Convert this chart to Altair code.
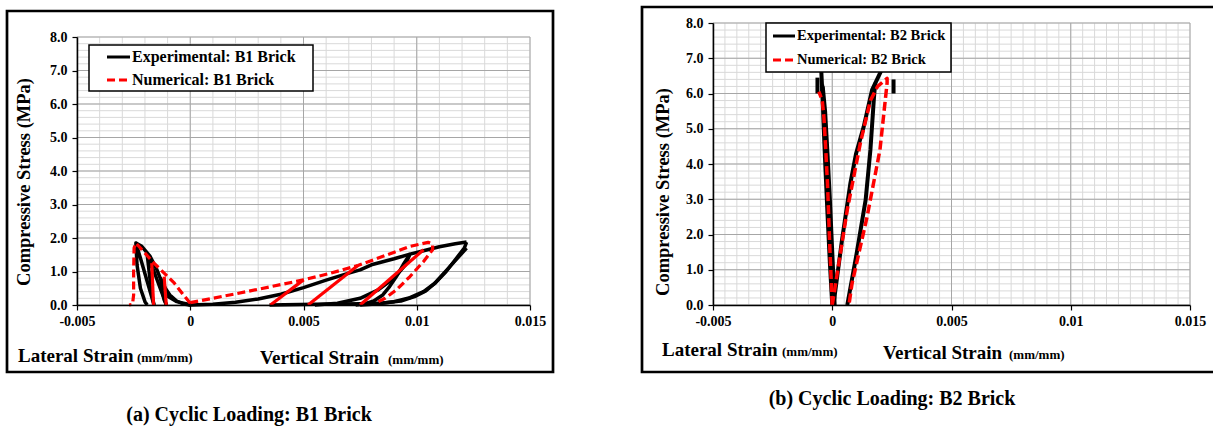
import altair as alt
import pandas as pd

FONT = "Liberation Serif"

# ---------------- tick values ----------------
X_TICKS = [-0.005, 0.0, 0.005, 0.01, 0.015]
X_MINOR_A = [round(-0.005 + 0.001 * i, 4) for i in range(21)]
X_MINOR_B = [round(-0.005 + 0.0005 * i, 4) for i in range(41)]
Y_TICKS = [0, 1, 2, 3, 4, 5, 6, 7, 8]
Y_MINOR = [round(0.2 * i, 1) for i in range(41)]

# ---------------- texts ----------------
LEGEND_A = ["Experimental: B1 Brick", "Numerical: B1 Brick"]
LEGEND_B = ["Experimental: B2 Brick", "Numerical: B2 Brick"]
Y_TITLE = "Compressive Stress (MPa)"
X_TITLE_LAT = "Lateral Strain"
X_TITLE_VER = "Vertical Strain"
UNIT = "(mm/mm)"
CAPTION_A = "(a) Cyclic Loading: B1 Brick"
CAPTION_B = "(b) Cyclic Loading: B2 Brick"

# ---------------- data: B1 brick (strain, MPa) ----------------
B1_EXP = [
    ([0, -0.0003, -0.0006, -0.0009, -0.0011, -0.0013, -0.00125, -0.00115, -0.00105],
     [0, 0.03, 0.12, 0.30, 0.50, 0.78, 0.45, 0.15, 0]),
    ([-0.00105, -0.0013, -0.0016, -0.0019, -0.0018, -0.0017, -0.0016],
     [0, 0.45, 1.0, 1.5, 0.9, 0.35, 0]),
    ([-0.0016, -0.0019, -0.0022, -0.0024, -0.00235, -0.0022, -0.0020, -0.0019],
     [0, 0.7, 1.4, 1.85, 1.2, 0.5, 0.1, 0]),
    ([-0.0024, -0.00214, -0.00177, -0.00147, -0.00118, -0.00096, -0.00059, -0.00015, 0],
     [1.85, 1.75, 1.45, 1.05, 0.55, 0.25, 0.10, 0.03, 0]),
    ([0, 0.001, 0.002, 0.003, 0.004, 0.005, 0.006, 0.007, 0.0075, 0.008, 0.009, 0.0097],
     [0, 0.02, 0.08, 0.18, 0.32, 0.52, 0.74, 0.95, 1.05, 1.20, 1.38, 1.52]),
    ([0.0097, 0.0094, 0.0091, 0.0088, 0.0085, 0.0081, 0.0077, 0.0073],
     [1.52, 1.2, 0.85, 0.55, 0.30, 0.12, 0.03, 0]),
    ([0.0055, 0.0065, 0.0075, 0.0083, 0.0090, 0.0095, 0.0097, 0.0103, 0.0110, 0.0117, 0.0122],
     [0, 0.05, 0.2, 0.45, 0.8, 1.2, 1.52, 1.62, 1.74, 1.83, 1.88]),
    ([0.0122, 0.0121, 0.0117, 0.0113, 0.0108, 0.0103, 0.0097, 0.0090, 0.0082, 0.0075],
     [1.88, 1.70, 1.35, 1.0, 0.65, 0.4, 0.22, 0.10, 0.03, 0]),
    ([0.0035, 0.0055, 0.0075, 0.0085, 0.0093, 0.0099, 0.0104, 0.0108, 0.0112, 0.0116, 0.0120, 0.0122],
     [0, 0.02, 0.04, 0.06, 0.12, 0.25, 0.42, 0.65, 0.95, 1.25, 1.55, 1.7]),
]
B1_NUM_DASH = [
    ([0, -0.0003, -0.0007, -0.0010, -0.0013, -0.0016, -0.0020, -0.0024, -0.00248, -0.0025, -0.0025, -0.00255, -0.0027],
     [0.05, 0.3, 0.65, 0.85, 1.05, 1.25, 1.55, 1.85, 1.7, 1.0, 0.3, 0.02, 0]),
    ([0, 0.0025, 0.0050, 0.0062, 0.0074, 0.0087, 0.0097, 0.0105, 0.0107, 0.0107, 0.0103, 0.0097, 0.0091, 0.0086, 0.0083],
     [0.07, 0.4, 0.75, 0.95, 1.18, 1.5, 1.75, 1.87, 1.82, 1.65, 1.3, 0.85, 0.45, 0.2, 0.1]),
]
B1_NUM_SOLID = [
    ([-0.0017, -0.00162], [1.25, 0]),
    ([-0.00115, -0.00106], [0.85, 0]),
    ([0.00354, 0.0050], [0, 0.75]),
    ([0.0052, 0.0074], [0, 1.18]),
    ([0.0075, 0.0103], [0, 1.65]),
]

# ---------------- data: B2 brick ----------------
B2_EXP = [
    ([0, -0.0001, -0.0002, -0.00028, -0.00035, -0.0004, -0.00045, -0.0005],
     [0, 1.2, 2.6, 3.8, 4.9, 5.8, 6.5, 7.3]),
    ([0.0001, 0, -0.0001, -0.0002, -0.0003, -0.0004],
     [0, 1.5, 3.0, 4.3, 5.5, 6.2]),
    ([-0.00062, -0.00062], [6.0, 6.45]),
    ([-0.00042, -0.00042], [5.95, 6.25]),
    ([0.00257, 0.00257], [6.0, 6.4]),
    ([0.00005, 0.0004, 0.00076, 0.001, 0.00132, 0.0015, 0.00167, 0.002, 0.00215],
     [0, 1.8, 3.45, 4.3, 5.06, 5.6, 6.1, 6.57, 6.8]),
    ([0.00063, 0.001, 0.0014, 0.0016, 0.00174, 0.0018],
     [0, 1.37, 2.98, 4.4, 5.8, 6.3]),
]
B2_NUM = [
    ([0, -0.0001, -0.0002, -0.00028, -0.00035, -0.00042, -0.00056],
     [0, 1.6, 3.45, 4.5, 5.34, 5.8, 6.05]),
    ([0, 0.00063, 0.00118, 0.0016, 0.0019, 0.0023, 0.0023, 0.0020, 0.00146, 0.00083, 0.0007],
     [0, 2.7, 4.6, 5.8, 6.2, 6.43, 6.3, 4.4, 2.5, 0.61, 0]),
]

# ---------------- layout (pixels) ----------------
PANELS = {
    "a": {"xr": [77, 530], "yr": [305, 37], "box": (7, 553, 11, 372), "xminor": X_MINOR_A},
    "b": {"xr": [713, 1190], "yr": [305, 23], "box": (642, 1230, 7, 372), "xminor": X_MINOR_B},
}
ONE = pd.DataFrame({"k": [0]})


def xscale(p):
    return alt.Scale(domain=[-0.005, 0.015], range=PANELS[p]["xr"], nice=False, zero=False)


def yscale(p):
    return alt.Scale(domain=[0, 8], range=PANELS[p]["yr"], nice=False, zero=False)


def seg_frame(segs):
    rows = []
    for k, (xs, ys) in enumerate(segs):
        for i, (xv, yv) in enumerate(zip(xs, ys)):
            rows.append({"x": xv, "y": yv, "seg": k, "i": i})
    return pd.DataFrame(rows)


def line_layer(p, segs, color, width, dash=None):
    kw = dict(color=color, strokeWidth=width, strokeJoin="round")
    if dash:
        kw["strokeDash"] = dash
    return alt.Chart(seg_frame(segs)).mark_line(**kw).encode(
        x=alt.X("x:Q", scale=xscale(p), axis=None),
        y=alt.Y("y:Q", scale=yscale(p), axis=None),
        detail="seg:N",
        order="i:Q",
    )


AXIS_STYLE = dict(
    grid=False, title=None, domainColor="black", domainWidth=1.5,
    tickColor="black", tickWidth=1.2, tickSize=5,
    labelFont=FONT, labelFontWeight="bold", labelFontSize=14, labelColor="black",
    labelOverlap=False, zindex=1,
)


def grid_layers(p):
    x0, x1 = PANELS[p]["xr"]
    yb, yt = PANELS[p]["yr"]
    vmin = alt.Chart(pd.DataFrame({"v": PANELS[p]["xminor"]})).mark_rule(color="#d9d9d9", strokeWidth=1).encode(
        x=alt.X("v:Q", scale=xscale(p), axis=None), y=alt.value(yt), y2=alt.value(yb))
    hmin = alt.Chart(pd.DataFrame({"v": Y_MINOR})).mark_rule(color="#d9d9d9", strokeWidth=1).encode(
        y=alt.Y("v:Q", scale=yscale(p), axis=None), x=alt.value(x0), x2=alt.value(x1))
    vmaj = alt.Chart(pd.DataFrame({"v": X_TICKS})).mark_rule(color="#a6a6a6", strokeWidth=1).encode(
        x=alt.X("v:Q", scale=xscale(p), axis=alt.Axis(
            values=X_TICKS, orient="bottom", labelFlush=False, labelPadding=4,
            labelExpr="datum.value < 0 ? '-' + format(-datum.value, '~g') : format(datum.value, '~g')",
            **AXIS_STYLE)),
        y=alt.value(yt), y2=alt.value(yb))
    hmaj = alt.Chart(pd.DataFrame({"v": Y_TICKS})).mark_rule(color="#a6a6a6", strokeWidth=1).encode(
        y=alt.Y("v:Q", scale=yscale(p), axis=alt.Axis(
            values=Y_TICKS, orient="left", offset=-x0, format=".1f", labelPadding=5,
            **AXIS_STYLE)),
        x=alt.value(x0), x2=alt.value(x1))
    return [vmin, hmin, vmaj, hmaj]


def box(p):
    x0, x1, y0, y1 = PANELS[p]["box"]
    return alt.Chart(ONE).mark_rect(fill="white", fillOpacity=0, stroke="black", strokeWidth=2.7).encode(
        x=alt.value(x0), x2=alt.value(x1), y=alt.value(y0), y2=alt.value(y1))


def text(s, x, y, size, align="left", baseline="alphabetic", angle=0):
    kw = dict(font=FONT, fontWeight="bold", fontSize=size, align=align, baseline=baseline, color="black")
    if angle:
        kw["angle"] = angle
    return alt.Chart(pd.DataFrame({"t": [s]})).mark_text(**kw).encode(
        x=alt.value(x), y=alt.value(y), text="t:N")


def legend(bx, rows_y, lx0, lx1, tx, size, labels, dash):
    x0, x1, y0, y1 = bx
    rect = alt.Chart(ONE).mark_rect(fill="white", stroke="black", strokeWidth=1.5).encode(
        x=alt.value(x0), x2=alt.value(x1), y=alt.value(y0), y2=alt.value(y1))
    l1 = alt.Chart(ONE).mark_rule(color="black", strokeWidth=3).encode(
        x=alt.value(lx0), x2=alt.value(lx1), y=alt.value(rows_y[0]))
    l2 = alt.Chart(ONE).mark_rule(color="#ff0000", strokeWidth=3, strokeDash=dash).encode(
        x=alt.value(lx0), x2=alt.value(lx1), y=alt.value(rows_y[1]))
    t1 = text(labels[0], tx, rows_y[0], size, baseline="middle")
    t2 = text(labels[1], tx, rows_y[1], size, baseline="middle")
    return [rect, l1, l2, t1, t2]


RED = "#ff0000"
layers = []
layers += grid_layers("a") + grid_layers("b")
layers += [box("a"), box("b")]
# panel a curves
layers.append(line_layer("a", B1_EXP, "black", 3.5))
layers.append(line_layer("a", B1_NUM_SOLID, RED, 3.2))
layers.append(line_layer("a", B1_NUM_DASH, RED, 3.2, dash=[8, 4]))
# panel b curves
layers.append(line_layer("b", B2_EXP, "black", 4))
layers.append(line_layer("b", B2_NUM, RED, 3.5, dash=[9, 4]))
# legends
layers += legend((89, 313, 45, 91), (57, 80), 107, 130, 132, 16, LEGEND_A, [8, 4])
layers += legend((766, 951, 23, 72), (36, 60), 773, 795, 797, 14.5, LEGEND_B, [8, 4])
# axis titles
layers.append(text(Y_TITLE, 24, 182, 18.5, align="center", baseline="middle", angle=270))
layers.append(text(Y_TITLE, 663, 192, 18.5, align="center", baseline="middle", angle=270))
layers.append(text(X_TITLE_LAT, 18, 362, 19))
layers.append(text(UNIT, 137, 362, 13))
layers.append(text(X_TITLE_VER, 260, 364, 19))
layers.append(text(UNIT, 388, 364, 13))
layers.append(text(X_TITLE_LAT, 662, 356, 19))
layers.append(text(UNIT, 782, 356, 13))
layers.append(text(X_TITLE_VER, 883, 359, 19))
layers.append(text(UNIT, 1009, 359, 13))
# captions
layers.append(text(CAPTION_A, 249, 421, 20, align="center"))
layers.append(text(CAPTION_B, 892, 405, 20, align="center"))

chart = alt.layer(*layers).resolve_scale(x="independent", y="independent").properties(
    width=1213, height=305,
    padding={"left": 0, "right": 0, "top": 0, "bottom": 125},
    autosize=alt.AutoSizeParams(type="none"),
    background="white",
).configure_view(stroke=None)

chart.save("out.html", embed_options={"renderer": "svg", "actions": False})
